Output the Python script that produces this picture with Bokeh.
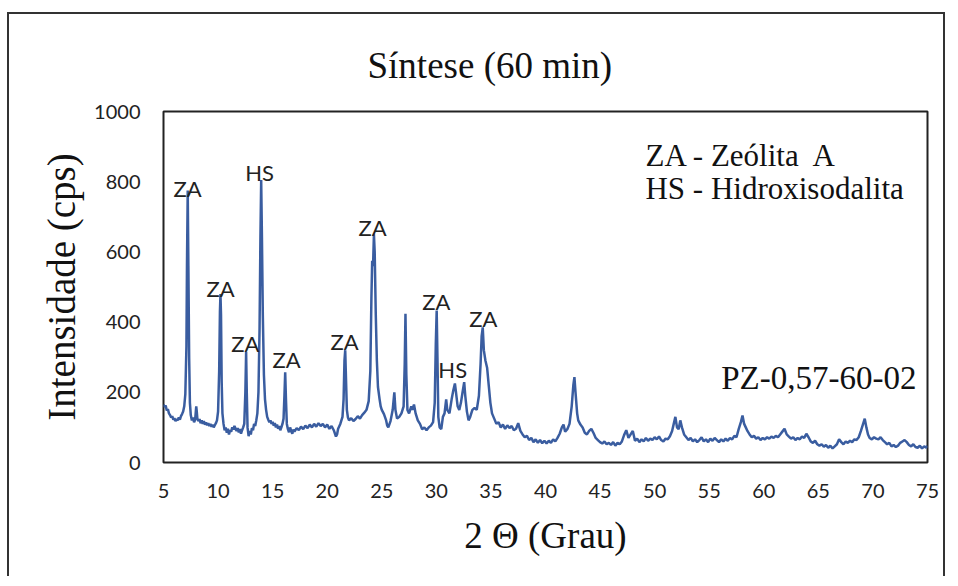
from bokeh.plotting import figure
from bokeh.models import Range1d, FixedTicker, Label
from bokeh.embed import file_html
from bokeh.resources import INLINE

# ---- data ----
two_theta = [
    5.0, 5.1, 5.2, 5.3, 5.4, 5.5, 5.6, 5.7, 5.8, 5.9, 6.0, 6.1, 6.2, 6.3, 6.4, 6.5, 6.6, 6.7, 6.8, 6.9,
    7.0, 7.1, 7.15, 7.22, 7.28, 7.35, 7.42, 7.5, 7.6, 7.7, 7.8, 7.9, 8.0, 8.05, 8.1, 8.2, 8.3, 8.4, 8.5,
    8.6, 8.7, 8.8, 8.9, 9.0, 9.1, 9.2, 9.3, 9.4, 9.5, 9.6, 9.7, 9.8, 9.9, 10.0, 10.1, 10.17, 10.22, 10.27,
    10.33, 10.4, 10.5, 10.6, 10.7, 10.8, 10.9, 11.0, 11.1, 11.2, 11.3, 11.4, 11.5, 11.6, 11.7, 11.8, 11.9,
    12.0, 12.1, 12.2, 12.3, 12.4, 12.5, 12.57, 12.63, 12.7, 12.8, 12.9, 13.0, 13.1, 13.2, 13.3, 13.4, 13.5,
    13.6, 13.7, 13.8, 13.88, 13.95, 14.02, 14.1, 14.2, 14.3, 14.4, 14.5, 14.6, 14.7, 14.8, 14.9, 15.0, 15.1,
    15.2, 15.3, 15.4, 15.5, 15.6, 15.7, 15.8, 15.9, 16.0, 16.08, 16.15, 16.22, 16.3, 16.4, 16.5, 16.6, 16.7,
    16.8, 16.9, 17.0, 17.2, 17.4, 17.6, 17.8, 18.0, 18.2, 18.4, 18.6, 18.8, 19.0, 19.2, 19.4, 19.6, 19.8,
    20.0, 20.2, 20.4, 20.6, 20.8, 20.9, 21.0, 21.2, 21.4, 21.5, 21.58, 21.65, 21.72, 21.8, 21.9, 22.0, 22.2,
    22.4, 22.6, 22.8, 23.0, 23.2, 23.4, 23.6, 23.8, 23.95, 24.05, 24.12, 24.2, 24.28, 24.35, 24.45, 24.55,
    24.65, 24.8, 24.9, 25.0, 25.2, 25.4, 25.5, 25.6, 25.8, 26.0, 26.15, 26.25, 26.4, 26.6, 26.8, 27.0, 27.1,
    27.17, 27.25, 27.35, 27.5, 27.7, 27.8, 27.95, 28.1, 28.3, 28.5, 28.7, 28.9, 29.1, 29.3, 29.5, 29.7,
    29.85, 29.95, 30.03, 30.1, 30.18, 30.3, 30.45, 30.6, 30.75, 30.9, 31.0, 31.2, 31.4, 31.55, 31.7, 31.8,
    31.95, 32.1, 32.25, 32.4, 32.55, 32.65, 32.8, 32.95, 33.1, 33.3, 33.5, 33.7, 33.9, 34.05, 34.15, 34.25,
    34.35, 34.5, 34.65, 34.8, 34.95, 35.1, 35.3, 35.5, 35.7, 35.9, 36.1, 36.3, 36.5, 36.7, 36.9, 37.1, 37.3,
    37.5, 37.7, 37.9, 38.1, 38.3, 38.5, 38.7, 38.9, 39.1, 39.3, 39.5, 39.7, 39.9, 40.1, 40.3, 40.5, 40.7,
    40.9, 41.1, 41.3, 41.5, 41.65, 41.8, 42.0, 42.2, 42.4, 42.55, 42.65, 42.75, 42.9, 43.0, 43.2, 43.4, 43.6,
    43.8, 44.0, 44.2, 44.4, 44.6, 44.8, 45.0, 45.2, 45.4, 45.6, 45.8, 46.0, 46.2, 46.4, 46.6, 46.8, 47.0,
    47.2, 47.4, 47.6, 47.8, 48.0, 48.2, 48.4, 48.6, 48.8, 49.0, 49.2, 49.4, 49.6, 49.8, 50.0, 50.2, 50.4,
    50.6, 50.8, 51.0, 51.2, 51.4, 51.6, 51.75, 51.9, 52.05, 52.2, 52.35, 52.5, 52.7, 52.9, 53.1, 53.3, 53.5,
    53.7, 53.9, 54.1, 54.3, 54.5, 54.7, 54.9, 55.1, 55.3, 55.5, 55.7, 55.9, 56.1, 56.3, 56.5, 56.7, 56.9,
    57.1, 57.3, 57.5, 57.7, 57.9, 58.05, 58.2, 58.35, 58.5, 58.7, 58.9, 59.1, 59.3, 59.5, 59.7, 59.9, 60.1,
    60.3, 60.5, 60.7, 60.9, 61.1, 61.3, 61.5, 61.7, 61.9, 62.1, 62.3, 62.5, 62.7, 62.9, 63.1, 63.3, 63.5,
    63.7, 63.9, 64.1, 64.3, 64.5, 64.7, 64.9, 65.1, 65.3, 65.5, 65.7, 65.9, 66.1, 66.3, 66.5, 66.7, 66.9,
    67.1, 67.3, 67.5, 67.7, 67.9, 68.1, 68.3, 68.5, 68.7, 68.9, 69.1, 69.25, 69.4, 69.55, 69.7, 69.9, 70.1,
    70.3, 70.5, 70.7, 70.9, 71.1, 71.3, 71.5, 71.7, 71.9, 72.1, 72.3, 72.5, 72.7, 72.9, 73.1, 73.3, 73.5,
    73.7, 73.9, 74.1, 74.3, 74.5, 74.7, 74.9, 75.0,
]
intensity = [
    165, 158, 162, 148, 152, 140, 135, 128, 132, 122, 126, 118, 124, 120, 128, 122, 132, 138, 145, 160,
    195, 330, 560, 775, 560, 300, 170, 135, 120, 128, 115, 122, 160, 145, 125, 118, 124, 112, 120,
    110, 118, 108, 114, 106, 112, 104, 110, 102, 108, 100, 106, 112, 120, 145, 260, 430, 480, 420,
    230, 140, 110, 92, 100, 85, 96, 80, 92, 88, 100, 94, 104, 96, 90, 98, 86,
    95, 82, 92, 100, 110, 200, 315, 200, 100, 75, 90, 80, 98, 92, 110, 104, 120,
    140, 200, 380, 640, 805, 640, 420, 250, 180, 150, 130, 122, 115, 120, 110, 116, 105,
    112, 100, 108, 96, 104, 92, 100, 110, 125, 190, 257, 180, 110, 95, 86, 100, 90,
    82, 94, 88, 98, 92, 102, 95, 105, 98, 108, 100, 110, 102, 112, 104, 110, 100,
    108, 96, 104, 92, 74, 80, 96, 110, 130, 180, 290, 320, 240, 150, 128, 120, 126,
    118, 124, 132, 125, 135, 142, 150, 175, 260, 470, 575, 560, 650, 600, 420, 290,
    215, 180, 160, 150, 138, 120, 105, 100, 118, 150, 200, 150, 125, 130, 140, 160, 280,
    424, 250, 150, 140, 160, 150, 165, 140, 120, 110, 95, 100, 92, 100, 105, 115,
    170, 340, 433, 300, 130, 100, 95, 130, 140, 180, 150, 140, 180, 205, 225, 200,
    160, 150, 170, 200, 229, 190, 145, 120, 130, 150, 155, 150, 190, 280, 360, 385,
    320, 290, 270, 220, 170, 140, 125, 110, 115, 100, 108, 96, 106, 98, 104, 92, 96,
    112, 90, 80, 72, 76, 64, 70, 58, 66, 56, 64, 55, 62, 54, 62, 56, 66,
    60, 70, 82, 100, 108, 88, 95, 110, 160, 220, 243, 200, 140, 120, 108, 100, 85,
    80, 90, 96, 84, 70, 64, 58, 54, 60, 52, 56, 50, 58, 48, 56, 52, 60,
    78, 92, 70, 80, 90, 62, 68, 58, 66, 60, 70, 62, 68, 64, 72, 66, 74,
    64, 60, 68, 66, 75, 90, 110, 130, 100, 95, 120, 100, 80, 72, 64, 70, 60,
    66, 58, 64, 72, 60, 66, 58, 68, 62, 70, 64, 58, 66, 60, 68, 62, 70,
    66, 76, 72, 95, 115, 134, 110, 100, 90, 80, 72, 76, 68, 72, 64, 70, 66,
    72, 68, 74, 70, 76, 72, 80, 88, 96, 80, 74, 68, 72, 64, 70, 66, 74,
    70, 82, 72, 60, 56, 62, 52, 48, 52, 45, 50, 42, 48, 40, 46, 52, 66,
    58, 52, 60, 56, 62, 58, 66, 64, 72, 90, 110, 125, 100, 80, 70, 66, 72,
    68, 66, 72, 64, 58, 52, 56, 46, 50, 44, 48, 56, 60, 64, 58, 50, 46,
    52, 44, 42, 48, 40, 46, 42, 48,
]
x_ticks = [5, 10, 15, 20, 25, 30, 35, 40, 45, 50, 55, 60, 65, 70, 75]
y_ticks = [0, 200, 400, 600, 800, 1000]

peak_labels = ["ZA", "ZA", "ZA", "HS", "ZA", "ZA", "ZA", "ZA", "HS", "ZA"]
peak_label_x = [7.2, 10.22, 12.5, 13.8, 16.27, 21.58, 24.15, 30.0, 31.5, 34.3]
peak_label_y = [781, 496, 339, 826, 293, 345, 670, 459, 265, 410]

title_text = "Síntese (60 min)"
legend_lines = ["ZA - Zeólita\u00a0 A", "HS - Hidroxisodalita"]
sample_name = "PZ-0,57-60-02"

SERIF = "Liberation Serif"
SANS = "Lato"

p = figure(width=938, height=564, output_backend="svg", toolbar_location=None,
           x_range=Range1d(5, 75), y_range=Range1d(0, 1000),
           min_border_left=154, min_border_right=20, min_border_top=97, min_border_bottom=116)
p.margin = (12, 0, 0, 7)
p.styles = {"border-left": "2px solid #333", "border-top": "2px solid #333",
            "border-right": "2px solid #333"}

p.title.text = title_text
p.title.align = "left"
p.title.offset = 204
p.title.standoff = 52
p.title.text_font = SERIF
p.title.text_font_size = "37px"
p.title.text_font_style = "normal"
p.title.text_color = "#111"

p.line(two_theta, intensity, line_color="#3a5da0", line_width=2.5)

p.xaxis.ticker = FixedTicker(ticks=x_ticks)
p.yaxis.ticker = FixedTicker(ticks=y_ticks)
for ax in (p.xaxis[0], p.yaxis[0]):
    ax.axis_line_color = None
    ax.major_tick_line_color = None
    ax.minor_tick_line_color = None
    ax.major_label_text_font = SANS
    ax.major_label_text_font_size = "20px"
    ax.major_label_text_color = "#222"
    ax.axis_label_text_font = SERIF
    ax.axis_label_text_font_style = "normal"
    ax.axis_label_text_color = "#111"
p.xaxis.axis_label = "2 Θ (Grau)"
p.yaxis.axis_label = "Intensidade (cps)"
p.xaxis.axis_label_text_font_size = "37px"
p.yaxis.axis_label_text_font_size = "39px"
p.xaxis.major_label_standoff = 15
p.yaxis.major_label_standoff = 17
p.xaxis.axis_label_standoff = 14
p.yaxis.axis_label_standoff = 8

p.xgrid.grid_line_color = None
p.ygrid.grid_line_color = None
p.outline_line_color = "#222"
p.outline_line_width = 2
p.background_fill_color = "white"
p.border_fill_color = "white"

for t, x, y in zip(peak_labels, peak_label_x, peak_label_y):
    p.add_layout(Label(x=x, y=y, text=t, text_align="center", text_baseline="middle",
                       text_font=SANS, text_font_size="22px", text_color="#222"))

for i, t in enumerate(legend_lines):
    p.add_layout(Label(x=49.16, y=875 - i * 94, text=t, text_align="left", text_baseline="middle",
                       text_font=SERIF, text_font_size="31px", text_color="#111"))

p.add_layout(Label(x=56.1, y=242, text=sample_name, text_align="left", text_baseline="middle",
                   text_font=SERIF, text_font_size="33px", text_color="#111"))

open("out.html", "w").write(file_html(p, INLINE))
